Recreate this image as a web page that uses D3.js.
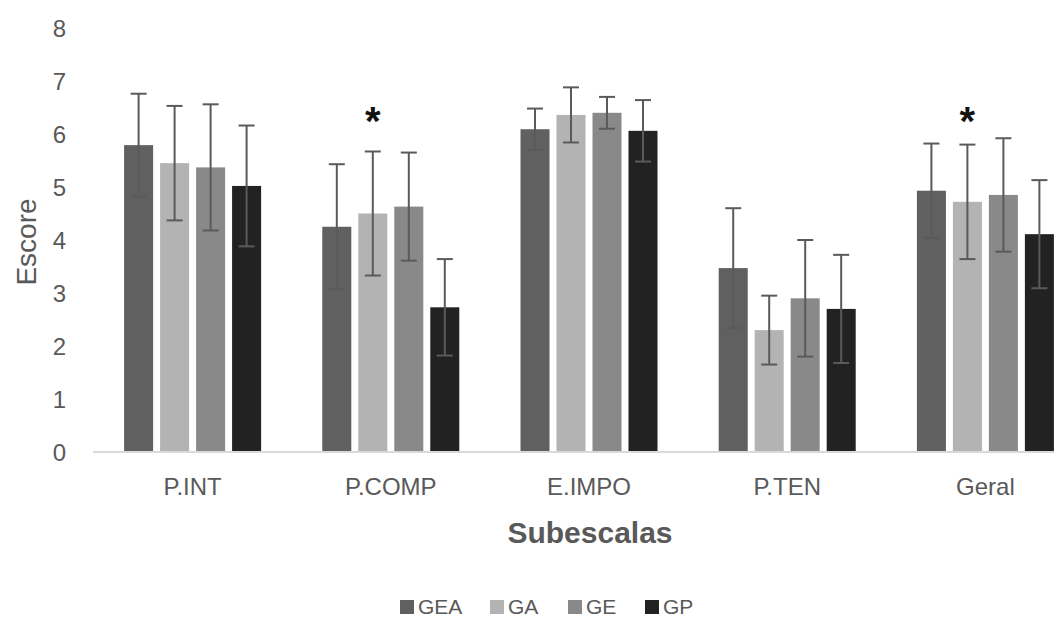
<!DOCTYPE html>
<html>
<head>
<meta charset="utf-8">
<script src="https://cdn.jsdelivr.net/npm/d3@7"></script>
<style>
  body { margin: 0; background: #fff; }
  text { font-family: "Liberation Sans", Arial, sans-serif; }
</style>
</head>
<body>
<script>
var categories = ["P.INT", "P.COMP", "E.IMPO", "P.TEN", "Geral"];
var series = ["GEA", "GA", "GE", "GP"];
var yTicks = [0, 1, 2, 3, 4, 5, 6, 7, 8];

// means and standard deviations, one value per category
var meanGEA = [5.79, 4.25, 6.09, 3.47, 4.93];
var meanGA  = [5.45, 4.50, 6.36, 2.30, 4.72];
var meanGE  = [5.37, 4.63, 6.40, 2.90, 4.85];
var meanGP  = [5.02, 2.73, 6.06, 2.70, 4.11];

var sdGEA = [0.97, 1.18, 0.39, 1.13, 0.89];
var sdGA  = [1.08, 1.17, 0.52, 0.65, 1.08];
var sdGE  = [1.19, 1.02, 0.30, 1.10, 1.07];
var sdGP  = [1.14, 0.91, 0.58, 1.02, 1.02];

// significance marks: category and group
var marks = [["P.COMP", "GA"], ["Geral", "GA"]];

var means = {GEA: meanGEA, GA: meanGA, GE: meanGE, GP: meanGP};
var sds = {GEA: sdGEA, GA: sdGA, GE: sdGE, GP: sdGP};
var colors = {GEA: "#606060", GA: "#b3b3b3", GE: "#898989", GP: "#222222"};

var width = 1054, height = 619;

var svg = d3.select("body").append("svg")
  .attr("width", width)
  .attr("height", height);

var x0 = d3.scaleBand().domain(categories).range([93.5, 1084.5]);
var groupW = 137;
var x1 = d3.scaleBand().domain(series).range([0, groupW]).paddingInner(0.194);
var y = d3.scaleLinear().domain([0, 8]).range([452, 28]);

// y axis labels only
var yAxis = d3.axisLeft(y).tickValues(yTicks).tickSize(0).tickPadding(0);
var yAxisGroup = svg.append("g")
  .attr("transform", "translate(66,0)")
  .call(yAxis);
yAxisGroup.select(".domain").remove();
yAxisGroup.selectAll("text")
  .attr("fill", "#595959")
  .style("font-size", "24px")
  .attr("dy", "0.35em");

// bars
var rows = [];
categories.forEach(function(c, i) {
  series.forEach(function(s) {
    rows.push({cat: c, s: s, v: means[s][i], sd: sds[s][i]});
  });
});

function barX(d) {
  return x0(d.cat) + (x0.bandwidth() - groupW) / 2 + x1(d.s);
}

svg.append("g").selectAll("rect")
  .data(rows)
  .enter().append("rect")
  .attr("x", barX)
  .attr("width", x1.bandwidth())
  .attr("y", function(d) { return y(d.v); })
  .attr("height", function(d) { return y(0) - y(d.v); })
  .attr("fill", function(d) { return colors[d.s]; });

// x axis line
var xAxis = d3.axisBottom(x0).tickSize(0).tickPadding(26);
var xAxisGroup = svg.append("g")
  .attr("transform", "translate(0," + y(0) + ")")
  .call(xAxis);
xAxisGroup.select(".domain")
  .attr("stroke", "#d9d9d9")
  .attr("stroke-width", 2)
  .attr("d", "M93," + 0 + "H1084");
xAxisGroup.selectAll("text")
  .attr("fill", "#595959")
  .style("font-size", "24px");

// error bars
var err = svg.append("g").attr("stroke", "#5a5a5a").attr("stroke-width", 2).attr("fill", "none");
var capW = 8;
rows.forEach(function(d) {
  var cx = barX(d) + x1.bandwidth() / 2;
  var top = y(d.v + d.sd), bot = y(d.v - d.sd);
  err.append("line").attr("x1", cx).attr("x2", cx).attr("y1", top).attr("y2", bot);
  err.append("line").attr("x1", cx - capW).attr("x2", cx + capW).attr("y1", top).attr("y2", top);
  err.append("line").attr("x1", cx - capW).attr("x2", cx + capW).attr("y1", bot).attr("y2", bot);
});

// asterisks
svg.append("g").selectAll("text")
  .data(marks)
  .enter().append("text")
  .attr("x", function(d) { return x0(d[0]) + (x0.bandwidth() - groupW) / 2 + x1(d[1]) + x1.bandwidth() / 2; })
  .attr("y", 135)
  .attr("text-anchor", "middle")
  .attr("fill", "#111")
  .style("font-size", "40px")
  .style("font-weight", "bold")
  .text("*");

// axis titles
svg.append("text")
  .attr("transform", "translate(36,242) rotate(-90)")
  .attr("text-anchor", "middle")
  .attr("fill", "#595959")
  .style("font-size", "28px")
  .text("Escore");

svg.append("text")
  .attr("x", 590)
  .attr("y", 543)
  .attr("text-anchor", "middle")
  .attr("fill", "#595959")
  .style("font-size", "30px")
  .style("font-weight", "bold")
  .text("Subescalas");

// legend
var legendX = [400, 490, 568, 645];
var legend = svg.append("g").selectAll("g")
  .data(series)
  .enter().append("g")
  .attr("transform", function(d, i) { return "translate(" + legendX[i] + ",607)"; });
legend.append("rect")
  .attr("x", 0).attr("y", -7)
  .attr("width", 14).attr("height", 14)
  .attr("fill", function(d) { return colors[d]; });
legend.append("text")
  .attr("x", 18)
  .attr("dy", "0.35em")
  .attr("fill", "#595959")
  .style("font-size", "21px")
  .text(function(d) { return d; });
</script>
</body>
</html>
